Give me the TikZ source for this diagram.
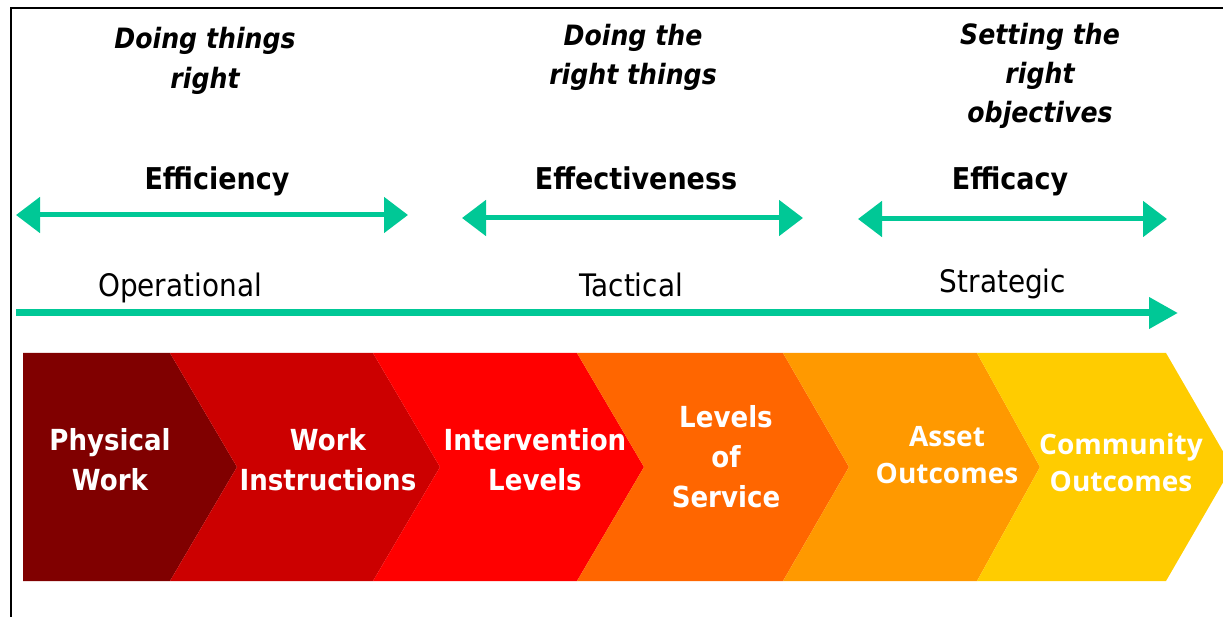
\documentclass[tikz,border=0pt]{standalone}
\usepackage{fontspec}
\setmainfont{DejaVu Sans}[FakeStretch=0.9]
\newfontfamily\osfont{Open Sans}
\usetikzlibrary{arrows.meta}
\definecolor{tealc}{RGB}{0,200,150}
\definecolor{cA}{RGB}{128,0,0}
\definecolor{cB}{RGB}{204,0,0}
\definecolor{cC}{RGB}{255,0,0}
\definecolor{cD}{RGB}{255,102,0}
\definecolor{cE}{RGB}{255,153,0}
\definecolor{cF}{RGB}{255,204,0}
\begin{document}
\begin{tikzpicture}[x=1pt,y=-1pt,
  dbl/.style={draw=tealc, line width=5pt, {Triangle[length=24pt,width=35pt]}-{Triangle[length=24pt,width=35pt]}},
  longarrow/.style={draw=tealc, line width=7pt, -{Triangle[length=29pt,width=30pt]}},
  motto/.style={align=center, font=\fontsize{28}{39}\selectfont\bfseries\itshape, inner sep=0pt},
  measure/.style={anchor=base, font=\fontsize{30}{35}\selectfont\bfseries, inner sep=0pt},
  level/.style={anchor=base, font=\fontsize{31}{35}\selectfont, inner sep=0pt},
  chevtext/.style={align=center, text=white, font=\fontsize{29}{40}\selectfont\bfseries, inner sep=0pt},
  chevtextb/.style={align=center, text=white, font=\osfont\fontsize{28}{37}\selectfont\bfseries, inner sep=0pt}]
\useasboundingbox (0,0) rectangle (1223,617);
\draw[line width=2pt] (11,617) -- (11,8.5) -- (1224,8.5);

% chevrons
\fill[cA] (23,353) -- (170,353) -- (237,467) -- (170,581) -- (23,581) -- cycle;
\fill[cB] (170,353) -- (373,353) -- (440,467) -- (373,581) -- (170,581) -- (237,467) -- cycle;
\fill[cC] (373,353) -- (577,353) -- (644,467) -- (577,581) -- (373,581) -- (440,467) -- cycle;
\fill[cD] (577,353) -- (783,353) -- (849,467) -- (783,581) -- (577,581) -- (644,467) -- cycle;
\fill[cE] (783,353) -- (977,353) -- (1040,467) -- (977,581) -- (783,581) -- (849,467) -- cycle;
\fill[cF] (977,353) -- (1166,353) -- (1232,467) -- (1166,581) -- (977,581) -- (1040,467) -- cycle;

\node[chevtext] (pw) at (110,460) {Physical\\Work};
\node[chevtext] (wi) at (328,460) {Work\\Instructions};
\node[chevtext] (il) at (535,460) {Intervention\\Levels};
\node[chevtext] (ls) at (726,457) {Levels\\of\\Service};
\node[chevtextb] (ao) at (947,455) {Asset\\Outcomes};
\node[chevtextb] (co) at (1121,462) {Community\\Outcomes};

% mottos
\node[motto, font=\fontsize{28}{40}\selectfont\bfseries\itshape] (m1) at (205,61) {Doing things\\right};
\node[motto] (m2) at (633,57) {Doing the\\right things};
\node[motto] (m3) at (1040,76) {Setting the\\right\\objectives};

% measures
\node[measure] (e1) at (217,190) {Efficiency};
\node[measure] (e2) at (636,190) {Effectiveness};
\node[measure] (e3) at (1010,190) {Efficacy};

\coordinate (a1l) at (16,215);
\coordinate (a1r) at (408,215);
\coordinate (a2l) at (462,218);
\coordinate (a2r) at (803,218);
\coordinate (a3l) at (858,219);
\coordinate (a3r) at (1167,219);
\draw[dbl] (a1l) -- (a1r);
\draw[dbl] (a2l) -- (a2r);
\draw[dbl] (a3l) -- (a3r);

% levels
\node[level] (op) at (180,297) {Operational};
\node[level] (ta) at (631,297) {Tactical};
\node[level] (st) at (1003,293) {Strategic};

\coordinate (ls0) at (16,313);
\coordinate (ls1) at (1178,313);
\draw[longarrow] (ls0) -- (ls1);
\end{tikzpicture}
\end{document}
